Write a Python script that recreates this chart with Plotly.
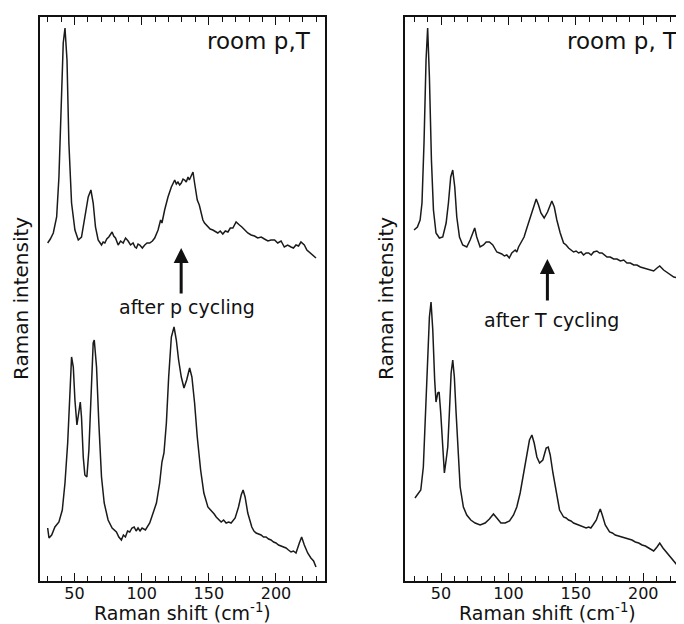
import plotly.graph_objects as go

# ---------------- data (intensity in arbitrary units) ----------------
# Left panel, upper trace: after p cycling
x_p_top = [30, 32, 34.2, 36.7, 38.4, 39.9, 41.6, 42.9, 44.4, 45.8, 47.8, 50.3, 52.8, 55.2, 57.7, 60.2,
           62.2, 63.9, 65.6, 67.6, 70.1, 71.3, 72.6, 74, 75.5, 78.0, 79.2, 80.5, 82.5, 84.3, 86.2, 88, 89.9,
           91.7, 93.6, 95, 96.1, 97.3, 98.6, 100.5, 102.3, 104, 106, 108, 109.7, 112.2, 114.1, 115.1,
           117.1, 119.6, 122.1, 124.6, 125.8, 127.0, 128.3, 129.5, 130.8, 132, 133.2, 134.5, 135.5,
           136.5, 138.2, 139.4, 141.4, 142.9, 144.4, 145.6, 146.8, 148, 149.3, 151, 153.0, 155, 156.7,
           158.5, 160.4, 162.3, 164.2, 166, 167.9, 170.3, 171.5, 172.8, 174.6, 176.5, 179, 181.5, 184,
           186.4, 189, 191.4, 194, 196.3, 199, 201.3, 203.8, 206.2, 208.7, 211.2, 213, 214.9, 216.8,
           218.6, 221.1, 223, 224.8, 227.3, 229.8]
i_p_top = [338, 342, 348, 364, 404, 471, 538, 553, 521, 438, 378, 351, 341, 344, 364, 384,
           391, 378, 354, 341, 336, 339, 338, 342, 344, 349, 345, 343, 336, 340, 338, 343, 340,
           336, 338, 334, 333, 337, 336, 333, 336, 338, 338, 340, 343, 351, 361, 358,
           371, 384, 394, 401, 397, 399, 396, 398, 402, 401, 399, 404, 401,
           404, 409, 398, 381, 376, 368, 361, 358, 356, 354, 352, 351, 349, 348,
           350, 347, 350, 349, 353, 353, 359, 357, 356, 354, 351, 348, 346, 345,
           343, 344, 342, 340, 341, 341, 338, 340, 334, 336, 334, 333, 336, 335,
           339, 336, 331, 329, 326, 323]

# Left panel, lower trace
x_p_bot = [30, 31.0, 33, 35.4, 38.4, 40.9, 42.9, 44.9, 46.6, 47.8, 49.1, 50.3, 51.8, 53.3, 54.3, 55.2,
           56.5, 57.7, 59.2, 60.7, 62.2, 63.9, 64.7, 66.4, 68.1, 70.1, 72.1, 75.0, 78.0, 81.2, 83, 84.9,
           86.4, 87.9, 89.5, 91.1, 92.8, 94.4, 95.9, 97.3, 98.8, 100.3, 102.8, 106, 108.5, 111, 113.4,
           115.1, 116.6, 118.4, 120.1, 122.1, 124.1, 125.8, 127.5, 129.5, 131.5, 133.5, 135.7, 137.4,
           139.4, 141.4, 143.9, 146.3, 149.3, 150.8, 152.3, 154, 155.5, 157.3, 159.2, 161, 162.9, 164.8,
           166.6, 169.6, 172.1, 174.1, 175.5, 177, 179, 182, 183.6, 185.2, 187, 188.9, 190.7, 192.6,
           194.5, 196.3, 198.2, 200.0, 201.9, 203.8, 205.6, 207.5, 209.3, 211.2, 213, 214.9, 217.4,
           219.1, 221.1, 223.6, 226.0, 228, 229.8]
i_p_bot = [53, 43, 46, 54, 59, 71, 98, 138, 188, 224, 214, 181, 156, 171, 179, 164,
           124, 106, 104, 131, 188, 238, 241, 214, 158, 104, 78, 61, 53, 49, 44, 41,
           46, 44, 50, 49, 53, 54, 50, 53, 50, 53, 51, 58, 68, 78, 98,
           119, 128, 158, 204, 244, 254, 241, 221, 204, 193, 201, 213, 204,
           178, 144, 111, 88, 74, 72, 69, 67, 64, 62, 59, 61, 58, 59,
           58, 63, 74, 86, 91, 84, 68, 54, 50, 48, 47, 46, 44, 44,
           42, 41, 39, 38, 36, 35, 34, 33, 31, 29, 30, 28, 38,
           44, 36, 28, 23, 20, 14]

# Right panel, upper trace: after T cycling
x_T_top = [30, 32.5, 34.5, 35.9, 37.4, 38.9, 40.1, 41.4, 42.9, 44.4, 46.3, 48.8, 51.3, 53.8, 55.5, 57.2,
           58.7, 60.2, 61.7, 63.7, 66.1, 69.1, 71.6, 73.6, 75.0, 76.5, 79, 81.5, 83.5, 85.9, 88.4, 91.4,
           93.2, 95.1, 97, 98.8, 100.6, 102.5, 105, 106.2, 107.5, 110, 111.6, 113.2, 116.1, 118.6, 120.6,
           122.3, 124.1, 126.5, 129, 132.2, 134, 135.9, 138.4, 140.9, 142.8, 144.6, 146.4, 148.3, 150.2,
           152, 153.9, 155.7, 157.6, 159.5, 161.4, 163.2, 165.6, 167.5, 169.4, 171.2, 173.1, 175.5, 178,
           180.5, 183, 185.5, 187.9, 190.4, 192.9, 195.3, 197.8, 200.3, 202.8, 205.2, 207.7, 210.2,
           212.2, 215.1, 218.9, 222.6, 226.3, 230]
i_T_top = [351, 354, 361, 378, 438, 521, 553, 504, 421, 371, 348, 343, 344, 358, 378, 404,
           411, 394, 364, 344, 336, 334, 341, 349, 353, 344, 334, 336, 339, 339, 336, 329,
           328, 327, 325, 326, 323, 328, 331, 329, 334, 341, 344, 351, 364, 374, 382,
           376, 368, 363, 369, 380, 374, 361, 348, 338, 336, 333, 331, 329, 330,
           328, 329, 326, 328, 328, 326, 329, 330, 328, 328, 326, 324, 324, 322,
           322, 320, 321, 318, 318, 316, 316, 314, 313, 312, 311, 310, 313,
           315, 311, 307, 304, 303, 301]

# Right panel, lower trace
x_T_bot = [30.7, 32.5, 35, 36.9, 38.4, 39.9, 41.4, 42.6, 43.9, 45.3, 46.3, 47.6, 48.6, 49.8, 51.3,
           52.5, 53.8, 55.0, 56.2, 57.5, 58.7, 59.9, 61.2, 62.7, 64.2, 66.6, 69.1, 72.1, 75.3, 79,
           82.7, 85.9, 88.9, 91.4, 94.4, 97.6, 100.8, 103.8, 106.2, 108.7, 111.2, 113.7, 115.6,
           117.4, 119.1, 121.1, 123.1, 125.5, 128, 129.5, 131, 133, 135.4, 137.9, 140.9, 142.8, 144.6,
           146.4, 148.3, 150.2, 152.0, 153.9, 155.7, 157.6, 159.5, 161.1, 162.7, 165.2, 166.9, 168.1,
           169.6, 171.8, 175.0, 177.1, 179.2, 181.7, 184.2, 186.7, 189.2, 191.6, 194.1, 196.6, 199.1,
           201.6, 204.0, 207.7, 210.2, 212.2, 214.6, 217.6, 219.5, 221.3, 225, 229.5]
i_T_bot = [83, 86, 91, 114, 161, 218, 264, 279, 251, 201, 179, 188, 189, 168, 128,
           108, 121, 134, 168, 208, 221, 204, 168, 124, 94, 74, 66, 61, 58, 56,
           58, 62, 67, 63, 58, 58, 60, 66, 74, 88, 108, 128, 141,
           146, 138, 124, 118, 121, 133, 134, 126, 108, 88, 71, 64, 63, 61,
           60, 58, 57, 56, 55, 54, 53, 54, 53, 56, 61, 68, 72,
           66, 56, 49, 48, 46, 45, 44, 43, 42, 41, 39, 38, 36,
           35, 33, 30, 34, 38, 33, 28, 25, 21, 16, 13]

x_ticks = [50, 100, 150, 200]

# ---------------- figure ----------------
OFF = 8                      # the page body margin shifts the figure by this much
W, H = 684 - OFF, 624 - OFF
FONT = "DejaVu Sans"
INK = "#111111"
LINE = "#1a1a1a"


def px(v):                   # page x pixel -> paper fraction
    return (v - OFF) / W


def py(v):                   # page y pixel -> paper fraction
    return 1 - (v - OFF) / H


fig = go.Figure()
for xs, ys, xa, ya in [(x_p_top, i_p_top, "x", "y"), (x_p_bot, i_p_bot, "x", "y"),
                       (x_T_top, i_T_top, "x2", "y2"), (x_T_bot, i_T_bot, "x2", "y2")]:
    fig.add_trace(go.Scatter(x=xs, y=ys, xaxis=xa, yaxis=ya, mode="lines",
                             line=dict(color=LINE, width=1.5), showlegend=False,
                             hoverinfo="skip"))

top_px, bot_px = 17, 581
ydom = [py(bot_px), py(top_px)]
yrange = [0, bot_px - top_px]


def xaxis_cfg(domain, rng, anchor):
    return dict(domain=domain, range=rng, anchor=anchor, showline=True, linecolor=INK,
                linewidth=2, mirror="ticks", ticks="inside", ticklen=8, tickwidth=1.3,
                tickcolor=INK, tickvals=x_ticks, showgrid=False, zeroline=False,
                tickfont=dict(family=FONT, size=16, color=INK), ticklabelstandoff=-3,
                minor=dict(dtick=10, tick0=0, ticks="inside", ticklen=5, tickwidth=1.1,
                           tickcolor=INK, showgrid=False),
                automargin=False, fixedrange=True)


def yaxis_cfg(mirror, anchor):
    return dict(domain=ydom, range=yrange, anchor=anchor, showline=True, linecolor=INK,
                linewidth=2, mirror=mirror, ticks="", showticklabels=False, showgrid=False,
                zeroline=False, automargin=False, fixedrange=True)


fig.update_layout(
    width=W, height=H, margin=dict(l=0, r=0, t=0, b=0),
    paper_bgcolor="white", plot_bgcolor="white",
    xaxis=xaxis_cfg([px(40), px(325)], [24.3, 236.5], "y"),
    yaxis=yaxis_cfg(True, "x"),
    xaxis2=xaxis_cfg([px(405), 1.0], [23.3, 230.2], "y2"),
    yaxis2=yaxis_cfg(False, "x2"),
    font=dict(family=FONT, color=INK),
)

ann = []
# axis titles
for cx in [182.5, 547.5]:
    ann.append(dict(text="Raman shift (cm<sup>-1</sup>)", xref="paper", yref="paper",
                    x=px(cx), y=py(612), xanchor="center", yanchor="middle",
                    showarrow=False, font=dict(family=FONT, size=19, color=INK)))
for cx in [21, 386]:
    ann.append(dict(text="Raman intensity", xref="paper", yref="paper", textangle=-90,
                    x=px(cx), y=py(299), xanchor="center", yanchor="middle",
                    showarrow=False, font=dict(family=FONT, size=20, color=INK)))
# panel labels
ann.append(dict(text="room p,T", xref="x", yref="y", x=227.7, y=540, xanchor="right",
                yanchor="middle", showarrow=False, font=dict(family=FONT, size=23, color=INK)))
ann.append(dict(text="room p, T", xref="x2", yref="y2", x=142.1, y=540, xanchor="left",
                yanchor="middle", showarrow=False, font=dict(family=FONT, size=23, color=INK)))
ann.append(dict(text="after p cycling", xref="x", yref="y", x=133.5, y=274, xanchor="center",
                yanchor="middle", showarrow=False, font=dict(family=FONT, size=19, color=INK)))
ann.append(dict(text="after T cycling", xref="x2", yref="y2", x=132.2, y=261, xanchor="center",
                yanchor="middle", showarrow=False, font=dict(family=FONT, size=19, color=INK)))
# arrows
ann.append(dict(text="", xref="x", yref="y", x=129.4, y=333, axref="x", ayref="y",
                ax=129.4, ay=286, showarrow=True, arrowhead=2, arrowsize=1.0,
                arrowwidth=3, arrowcolor=INK, standoff=0, startstandoff=0))
ann.append(dict(text="", xref="x2", yref="y2", x=128.9, y=322, axref="x2", ayref="y2",
                ax=128.9, ay=279, showarrow=True, arrowhead=2, arrowsize=1.0,
                arrowwidth=3, arrowcolor=INK, standoff=0, startstandoff=0))
fig.update_layout(annotations=ann)

fig.write_html("out.html")
